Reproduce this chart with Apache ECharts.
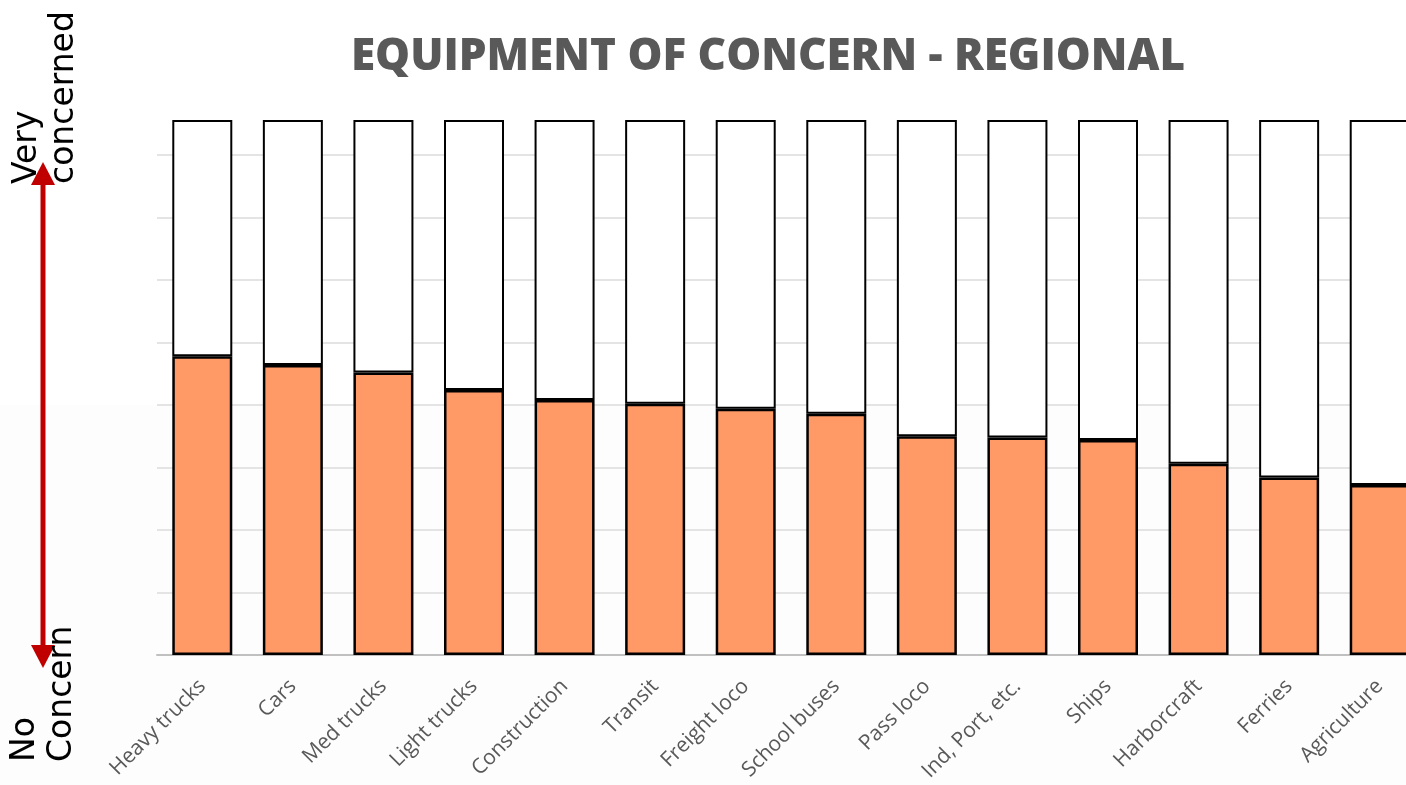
<!DOCTYPE html>
<html>
<head>
<meta charset="utf-8">
<script src="https://cdn.jsdelivr.net/npm/echarts@6/dist/echarts.min.js"></script>
<style>
  html, body { margin: 0; padding: 0; background: #fff; }
  #chart { width: 1406px; height: 785px; }
</style>
</head>
<body>
<div id="chart"></div>
<script>
// ================* EQUIPMENT OF CONCERN *

const categories = ['Heavy trucks', 'Cars', 'Med trucks', 'Light trucks', 'Construction', 'Transit',
  'Freight loco', 'School buses', 'Pass loco', 'Ind, Port, etc.', 'Ships', 'Harborcraft', 'Ferries', 'Agriculture'];
const concern = [2.39, 2.32, 2.26, 2.12, 2.04, 2.01, 1.97, 1.93, 1.75, 1.74, 1.72, 1.53, 1.42, 1.36];
const scaleTop = 4.28;
const remainder = concern.map(v => +(scaleTop - v).toFixed(2));

var chart = echarts.init(document.getElementById('chart'));

// red arrow + side labels
function sideText(x, y, txt) {
    return {
        type: 'text',
        x: x, y: y,
        rotation: Math.PI / 2,
        style: {
            text: txt,
            x: 0, y: 0,
            align: 'left',
            verticalAlign: 'middle',
            fill: '#000',
            font: '33px "DejaVu Sans"'
        },
        z: 10
    };
}

option = {
    animation: false,
    backgroundColor: '#ffffff',
    graphic: [
        {
            type: 'rect',
            shape: { x: 0, y: 405, width: 1406, height: 380 },
            style: { fill: '#fdfdfd' },
            z: -10, silent: true
        },
        {
            type: 'text',
            x: 768, y: 57,
            style: {
                text: 'EQUIPMENT OF CONCERN - REGIONAL',
                align: 'center',
                verticalAlign: 'middle',
                fill: '#595959',
                font: '800 44px "Open Sans"'
            }
        },
        sideText(27, 184, 'Very'),
        sideText(64, 184, 'concerned'),
        sideText(25, 762, 'No'),
        sideText(62, 762, 'Concern'),
        {
            type: 'line',
            shape: { x1: 43, y1: 180, x2: 43, y2: 650 },
            style: { stroke: '#c00000', lineWidth: 5 }
        },
        {
            type: 'polygon',
            shape: { points: [[43, 162], [31, 185], [55, 185]] },
            style: { fill: '#c00000' }
        },
        {
            type: 'polygon',
            shape: { points: [[43, 668], [31, 645], [55, 645]] },
            style: { fill: '#c00000' }
        }
    ],
    grid: {
        left: 157,
        top: 120,
        right: -19,
        bottom: 130,
        outerBoundsMode: 'none',
        containLabel: false
    },
    xAxis: {
        type: 'category',
        data: categories,
        axisLine: { lineStyle: { color: '#c0c0c0', width: 2 } },
        axisTick: { show: false },
        axisLabel: {
            rotate: 45,
            margin: 28,
            color: '#595959',
            fontSize: 21,
            fontFamily: 'Open Sans',
            interval: 0
        }
    },
    yAxis: {
        type: 'value',
        min: 0,
        max: scaleTop,
        interval: 0.5,
        axisLabel: { show: false },
        axisLine: { show: false },
        axisTick: { show: false },
        splitLine: {
            show: true,
            showMaxLine: false,
            lineStyle: { color: '#e4e4e4', width: 2 }
        }
    },
    series: [
        {
            name: 'Concern',
            type: 'bar',
            stack: 'total',
            barWidth: 60,
            data: concern,
            itemStyle: { color: '#ff9966', borderColor: '#000', borderWidth: 2.5 }
        },
        {
            name: 'Rest',
            type: 'bar',
            stack: 'total',
            barWidth: 60,
            data: remainder,
            itemStyle: { color: '#ffffff', borderColor: '#000', borderWidth: 2 }
        }
    ]
};
chart.setOption(option);
</script>
</body>
</html>
